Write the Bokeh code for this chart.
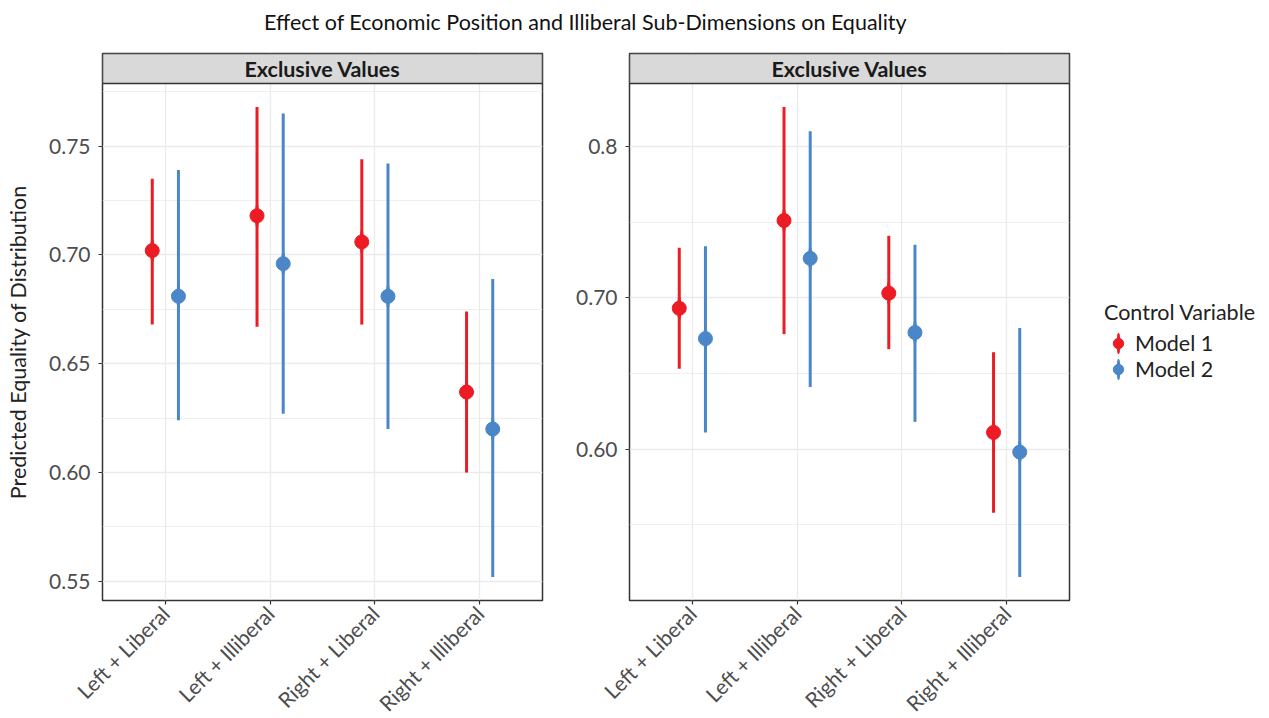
import math
from bokeh.plotting import figure
from bokeh.models import (ColumnDataSource, Range1d, FixedTicker, Legend, LegendItem, Label)
from bokeh.layouts import column, row
from bokeh.transform import dodge
from bokeh.core.properties import value
from bokeh.embed import file_html
from bokeh.resources import INLINE

# ---------------- data ----------------
chart_title = "Effect of Economic Position and Illiberal Sub-Dimensions on Equality"
y_label = "Predicted Equality of Distribution"
legend_title = "Control Variable"
categories = ["Left + Liberal", "Left + Illiberal", "Right + Liberal", "Right + Illiberal"]
series_names = ["Model 1", "Model 2"]
series_colors = ["#EC1C24", "#4A86C8"]
strip_labels = ["Exclusive Values", "Exclusive Values"]

# left panel
left_m1_est = [0.702, 0.718, 0.706, 0.637]
left_m1_lo = [0.668, 0.667, 0.668, 0.600]
left_m1_hi = [0.735, 0.768, 0.744, 0.674]
left_m2_est = [0.681, 0.696, 0.681, 0.620]
left_m2_lo = [0.624, 0.627, 0.620, 0.552]
left_m2_hi = [0.739, 0.765, 0.742, 0.689]
left_ticks = [0.55, 0.60, 0.65, 0.70, 0.75]
left_tick_labels = ["0.55", "0.60", "0.65", "0.70", "0.75"]
left_minor = [0.575, 0.625, 0.675, 0.725, 0.775]

# right panel
right_m1_est = [0.693, 0.751, 0.703, 0.611]
right_m1_lo = [0.653, 0.676, 0.666, 0.558]
right_m1_hi = [0.733, 0.826, 0.741, 0.664]
right_m2_est = [0.673, 0.726, 0.677, 0.598]
right_m2_lo = [0.611, 0.641, 0.618, 0.5155]
right_m2_hi = [0.734, 0.810, 0.735, 0.680]
right_ticks = [0.60, 0.70, 0.80]
right_tick_labels = ["0.60", "0.70", "0.8"]
right_minor = [0.55, 0.65, 0.75]

# ---------------- style ----------------
FONT = "Lato"
FRAME_W = 440
DATA_H = 517
STRIP_H = 30
TOP_PAD = 5
BOTTOM_PAD = 108
DODGE = 0.125
GRID = "#EBEBEB"
DARK = "#333333"
TXT = "21.5px"
YLAB_W = 34


def make_panel(series, ticks, tick_labels, minor, strip_text,
               border_left, border_right):
    xs = list(range(1, len(categories) + 1))
    lo_all = min(min(s[1]) for s in series)
    hi_all = max(max(s[2]) for s in series)
    span = hi_all - lo_all
    y0 = lo_all - 0.05 * span
    y1 = hi_all + 0.05 * span
    strip = (y1 - y0) * STRIP_H / DATA_H
    x0, x1 = 0.4, len(categories) + 0.6

    p = figure(frame_width=FRAME_W, frame_height=DATA_H + STRIP_H,
               x_range=Range1d(x0, x1), y_range=Range1d(y0, y1 + strip),
               output_backend="svg", toolbar_location=None,
               min_border_left=border_left, min_border_right=border_right,
               min_border_top=TOP_PAD, min_border_bottom=BOTTOM_PAD)
    p.background_fill_color = "white"
    p.border_fill_color = "white"
    p.outline_line_color = DARK
    p.outline_line_width = 1.5

    # axes
    p.xaxis.ticker = FixedTicker(ticks=xs)
    p.xaxis.major_label_overrides = {x: c for x, c in zip(xs, categories)}
    p.xaxis.major_label_orientation = math.pi / 4
    p.yaxis.ticker = FixedTicker(ticks=ticks, minor_ticks=minor)
    p.yaxis.major_label_overrides = {t: l for t, l in zip(ticks, tick_labels)}
    for ax in (p.xaxis[0], p.yaxis[0]):
        ax.axis_line_color = None
        ax.major_tick_line_color = DARK
        ax.major_tick_line_width = 1.2
        ax.major_tick_out = 4
        ax.major_tick_in = 0
        ax.minor_tick_line_color = None
        ax.major_label_text_font = FONT
        ax.major_label_text_font_size = "21px"
        ax.major_label_text_color = "#4D4D4D"
    p.yaxis.major_label_standoff = 8
    p.xaxis.major_label_standoff = 5

    # grid
    p.xgrid.grid_line_color = GRID
    p.xgrid.grid_line_width = 1.3
    p.ygrid.grid_line_color = GRID
    p.ygrid.grid_line_width = 1.3
    p.ygrid.minor_grid_line_color = GRID
    p.ygrid.minor_grid_line_width = 0.8

    # data
    renderers = []
    offsets = [-DODGE, DODGE]
    for (est, lo, hi), name, color, off in zip(series, series_names, series_colors, offsets):
        src = ColumnDataSource(dict(x=xs, est=est, lo=lo, hi=hi))
        # thin vertical key (hidden under the error bars; gives the legend its vertical line)
        key = p.ellipse(x=dodge("x", off), y="est", width=3, height=24,
                        width_units="screen", height_units="screen",
                        fill_color=color, line_color=color, line_width=1, source=src)
        p.segment(x0=dodge("x", off), x1=dodge("x", off), y0="lo", y1="hi",
                  line_color=color, line_width=3, source=src)
        pts = p.scatter(x=dodge("x", off), y="est", size=14, marker="circle",
                        fill_color=color, line_color=color, source=src)
        renderers.append((key, pts, name))

    # strip
    p.quad(left=x0, right=x1, bottom=y1, top=y1 + strip,
           fill_color="#D9D9D9", line_color=DARK, line_width=1.5)
    p.text(x=[(x0 + x1) / 2], y=[y1 + strip / 2], text=[strip_text],
           text_font=value(FONT), text_font_style="bold", text_font_size=TXT,
           text_color="#1A1A1A", text_align="center", text_baseline="middle")
    return p, renderers, (y0 + y1) / 2


p_left, _, left_mid = make_panel(
    [(left_m1_est, left_m1_lo, left_m1_hi), (left_m2_est, left_m2_lo, left_m2_hi)],
    left_ticks, left_tick_labels, left_minor, strip_labels[0],
    border_left=102 - YLAB_W, border_right=10)

p_right, rr, _ = make_panel(
    [(right_m1_est, right_m1_lo, right_m1_hi), (right_m2_est, right_m2_lo, right_m2_hi)],
    right_ticks, right_tick_labels, right_minor, strip_labels[1],
    border_left=77, border_right=195)

# y-axis title column: same vertical geometry and y range as the left panel,
# label centred on the data part (below the facet strip)
p_ylab = figure(frame_width=YLAB_W, frame_height=DATA_H + STRIP_H,
                x_range=Range1d(0, 1), y_range=p_left.y_range,
                output_backend="svg", toolbar_location=None,
                x_axis_type=None, y_axis_type=None,
                min_border_left=0, min_border_right=0,
                min_border_top=TOP_PAD, min_border_bottom=BOTTOM_PAD)
p_ylab.outline_line_color = None
p_ylab.xgrid.visible = False
p_ylab.ygrid.visible = False
p_ylab.add_layout(Label(x=YLAB_W / 2, y=left_mid, x_units="screen", y_units="data",
                        text=y_label, angle=math.pi / 2,
                        text_font=FONT, text_font_size=TXT, text_color="#222222",
                        text_align="center", text_baseline="middle"))

# legend
items = [LegendItem(label=name, renderers=[key, pts]) for key, pts, name in rr]
legend = Legend(items=items, title=legend_title, location=(35, 218),
                title_text_font=FONT, title_text_font_size=TXT,
                title_text_font_style="normal", title_text_color="#222222",
                label_text_font=FONT, label_text_font_size=TXT, label_text_color="#222222",
                glyph_width=28, glyph_height=26, label_height=26, spacing=0,
                title_standoff=5, padding=0, margin=0,
                border_line_color=None, background_fill_alpha=0,
                label_standoff=3)
p_right.add_layout(legend, "right")

# title
total_w = YLAB_W + (102 - YLAB_W + FRAME_W + 10) + (77 + FRAME_W + 195)
p_title = figure(width=total_w, height=48, x_range=Range1d(0, 1), y_range=Range1d(0, 1),
                 output_backend="svg", toolbar_location=None,
                 x_axis_type=None, y_axis_type=None,
                 min_border_left=0, min_border_right=0, min_border_top=0, min_border_bottom=0)
p_title.outline_line_color = None
p_title.xgrid.visible = False
p_title.ygrid.visible = False
p_title.add_layout(Label(x=585, y=27, x_units="screen", y_units="screen", text=chart_title,
                         text_font=FONT, text_font_size=TXT, text_color="#111111",
                         text_align="center", text_baseline="middle"))

layout = column(p_title, row(p_ylab, p_left, p_right))
open("out.html", "w").write(file_html(layout, INLINE))
